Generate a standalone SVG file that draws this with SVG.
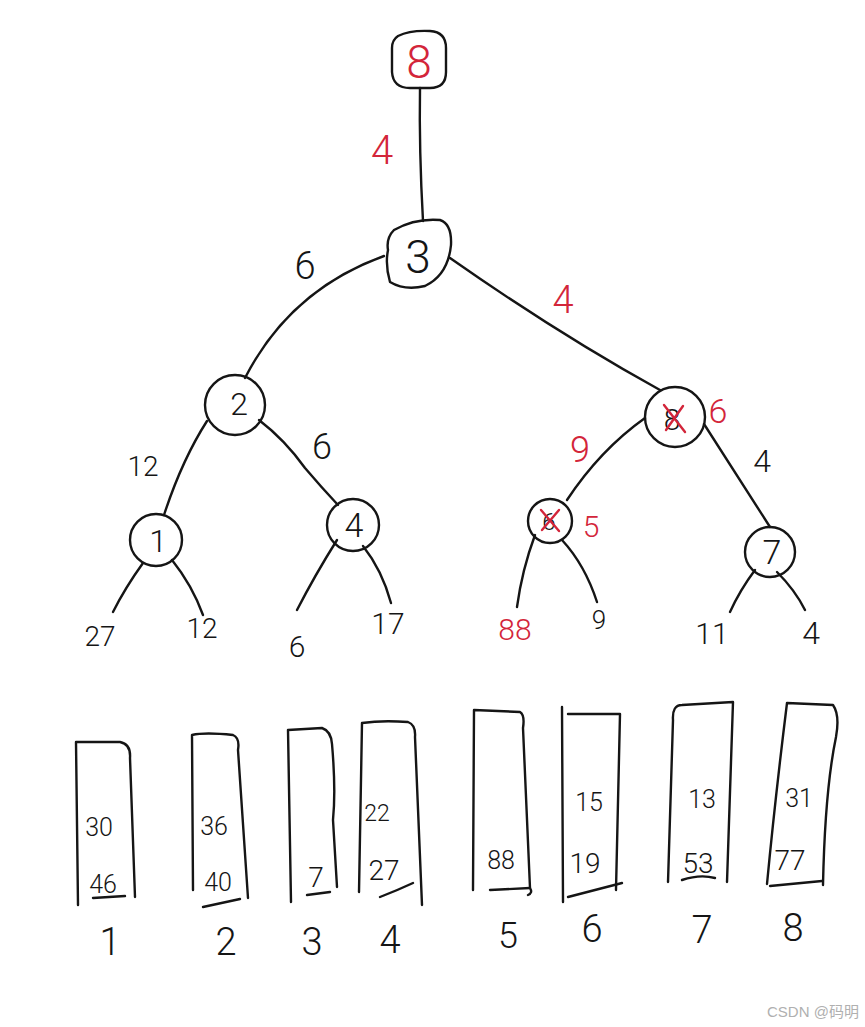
<svg xmlns="http://www.w3.org/2000/svg" width="865" height="1027" viewBox="0 0 865 1027">
<style>
.ln{fill:none;stroke:#151515;stroke-width:2.4;stroke-linecap:round;stroke-linejoin:round}
.rx{fill:none;stroke:#d3253a;stroke-width:2.4;stroke-linecap:round}
.t{font-family:Roboto,"Liberation Sans","DejaVu Sans",sans-serif;font-weight:300;fill:#151515;text-anchor:middle;dominant-baseline:central}
.r{fill:#d3253a}
.wm{font-family:"Liberation Sans","Noto Sans CJK SC",sans-serif;fill:#b0b0b0;font-size:15px}
</style>
<rect width="865" height="1027" fill="#ffffff"/>
<g id="connectors">
  <path class="ln" d="M420,88 Q419,150 423,221"/>
  <path class="ln" d="M384,256 Q290,290 245,378"/>
  <path class="ln" d="M450,258 Q560,335 660,390"/>
  <path class="ln" d="M207,421 Q182,460 164,515"/>
  <path class="ln" d="M259,420 Q285,440 305,468 Q322,488 338,505"/>
  <path class="ln" d="M645,418 Q600,450 567,500"/>
  <path class="ln" d="M704,424 Q740,480 770,527"/>
  <path class="ln" d="M143,563 Q125,588 113,612"/>
  <path class="ln" d="M172,560 Q192,585 203,615"/>
  <path class="ln" d="M337,540 Q315,575 297,610"/>
  <path class="ln" d="M363,546 Q382,570 391,603"/>
  <path class="ln" d="M535,535 Q522,570 517,607"/>
  <path class="ln" d="M562,540 Q585,565 597,602"/>
  <path class="ln" d="M755,570 Q740,590 730,612"/>
  <path class="ln" d="M777,572 Q795,590 805,610"/>
</g>
<g id="edge-labels">
  <text class="t r" x="382" y="150" font-size="40">4</text>
  <text class="t" x="305" y="266" font-size="38">6</text>
  <text class="t r" x="563" y="300" font-size="38">4</text>
  <text class="t" x="143" y="466" font-size="28">12</text>
  <text class="t" x="322" y="447" font-size="36">6</text>
  <text class="t r" x="580" y="450" font-size="36">9</text>
  <text class="t" x="762" y="461" font-size="32">4</text>
  <text class="t r" x="718" y="411" font-size="34">6</text>
  <text class="t r" x="591" y="526" font-size="30">5</text>
</g>
<g id="node-root">
  <path class="ln" d="M398,36 Q410,30 430,31 Q446,32 446,48 L446,72 Q446,88 430,88 L410,88 Q393,88 392,72 L392,48 Q392,40 398,36 Z"/>
  <text class="t r" x="419" y="62" font-size="46">8</text>
</g>
<g id="node-3">
  <path class="ln" d="M394,230 Q415,218 440,220 Q452,224 451,245 Q448,275 425,286 Q405,291 390,282 Q385,265 388,250 Q386,238 394,230 Z"/>
  <text class="t" x="418" y="257" font-size="46">3</text>
</g>
<g id="node-2">
  <circle class="ln" cx="235" cy="405" r="30"/>
  <text class="t" x="239" y="404" font-size="32">2</text>
</g>
<g id="node-8x">
  <circle class="ln" cx="675" cy="417" r="30"/>
  <text class="t" x="672" y="419" font-size="30">8</text>
  <path class="rx" d="M664,405 L685,432 M683,406 L666,430"/>
</g>
<g id="node-1">
  <circle class="ln" cx="156" cy="540" r="26"/>
  <text class="t" x="158" y="541" font-size="32">1</text>
</g>
<g id="node-4">
  <circle class="ln" cx="353" cy="525" r="26"/>
  <text class="t" x="354" y="525" font-size="34">4</text>
</g>
<g id="node-6x">
  <circle class="ln" cx="550" cy="521" r="22"/>
  <text class="t" x="549" y="522" font-size="24">6</text>
  <path class="rx" d="M541,510 L559,531 M559,510 L542,530"/>
</g>
<g id="node-7">
  <circle class="ln" cx="770" cy="552" r="25"/>
  <text class="t" x="772" y="552" font-size="34">7</text>
</g>
<g id="leaves">
  <text class="t" x="100" y="636" font-size="28">27</text>
  <text class="t" x="202" y="628" font-size="28">12</text>
  <text class="t" x="297" y="646" font-size="30">6</text>
  <text class="t" x="388" y="623" font-size="30">17</text>
  <text class="t r" x="515" y="629" font-size="30" font-weight="500">88</text>
  <text class="t" x="599" y="620" font-size="26">9</text>
  <text class="t" x="712" y="633" font-size="30">11</text>
  <text class="t" x="811" y="633" font-size="32">4</text>
</g>
<g id="run-1">
  <path class="ln" d="M78,905 L76,742 L120,742 Q131,744 130,758 L135,897"/>
  <path class="ln" d="M93,898 L125,896"/>
  <text class="t" x="99" y="827" font-size="25">30</text>
  <text class="t" x="103" y="884" font-size="25">46</text>
  <text class="t" x="110" y="942" font-size="38">1</text>
</g>
<g id="run-2">
  <path class="ln" d="M193,890 L192,735 Q205,732 233,735 Q240,738 238,750 L248,898"/>
  <path class="ln" d="M203,907 L240,899"/>
  <text class="t" x="214" y="826" font-size="25">36</text>
  <text class="t" x="218" y="882" font-size="25">40</text>
  <text class="t" x="226" y="942" font-size="38">2</text>
</g>
<g id="run-3">
  <path class="ln" d="M291,902 L288,730 L322,728 Q331,731 332,744 Q336,790 333,820 L337,887"/>
  <path class="ln" d="M307,895 L330,892"/>
  <text class="t" x="316" y="877" font-size="28">7</text>
  <text class="t" x="312" y="942" font-size="38">3</text>
</g>
<g id="run-4">
  <path class="ln" d="M359,892 L362,723 Q382,720 408,722 Q416,725 415,737 L422,905"/>
  <path class="ln" d="M380,897 Q398,890 413,883"/>
  <text class="t" x="377" y="813" font-size="23">22</text>
  <text class="t" x="384" y="870" font-size="28">27</text>
  <text class="t" x="390" y="940" font-size="38">4</text>
</g>
<g id="run-5">
  <path class="ln" d="M473,890 L474,710 L520,712 Q525,715 523,728 L530,888 Q533,893 528,895"/>
  <path class="ln" d="M490,890 L530,888"/>
  <text class="t" x="501" y="860" font-size="25">88</text>
  <text class="t" x="508" y="936" font-size="36">5</text>
</g>
<g id="run-6">
  <path class="ln" d="M563,902 L562,707"/>
  <path class="ln" d="M568,714 L620,714 L616,890"/>
  <path class="ln" d="M568,897 L622,883"/>
  <text class="t" x="589" y="802" font-size="25">15</text>
  <text class="t" x="585" y="863" font-size="28">19</text>
  <text class="t" x="592" y="929" font-size="38">6</text>
</g>
<g id="run-7">
  <path class="ln" d="M668,882 L673,720 Q672,705 682,705 L733,702 L727,882"/>
  <path class="ln" d="M682,880 Q700,874 715,878"/>
  <text class="t" x="702" y="799" font-size="25">13</text>
  <text class="t" x="698" y="863" font-size="28">53</text>
  <text class="t" x="702" y="930" font-size="38">7</text>
</g>
<g id="run-8">
  <path class="ln" d="M767,884 Q775,800 787,703 L833,705 Q840,715 836,737 Q825,790 823,885"/>
  <path class="ln" d="M770,886 L822,881"/>
  <text class="t" x="799" y="798" font-size="25">31</text>
  <text class="t" x="790" y="860" font-size="28">77</text>
  <text class="t" x="793" y="928" font-size="38">8</text>
</g>
<text class="wm" x="767" y="1017">CSDN @码明</text>
</svg>
